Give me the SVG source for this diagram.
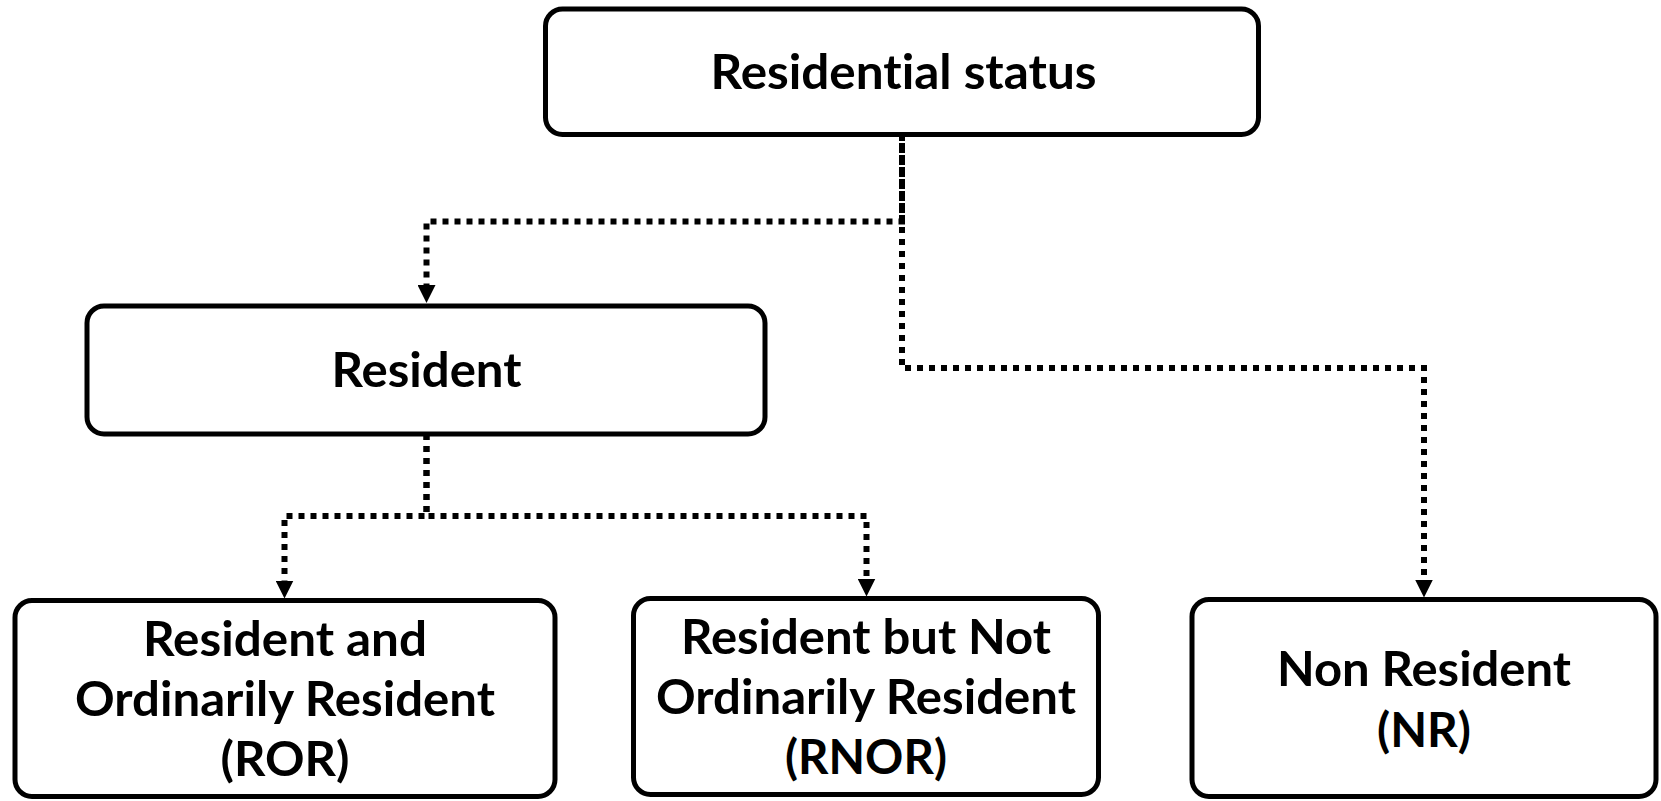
<svg xmlns="http://www.w3.org/2000/svg" width="1661" height="801" viewBox="0 0 1661 801">
  <style>
    .box { fill: #ffffff; stroke: #000000; stroke-width: 5; }
    .lbl { font-family: "Lato", "Open Sans", "Liberation Sans", sans-serif; font-weight: bold; font-size: 48px; fill: #000000; text-anchor: middle; font-variant-ligatures: none; }
    .conn { fill: none; stroke: #000000; stroke-width: 6; stroke-dasharray: 6 6; marker-end: url(#arrow); }
  </style>
  <defs>
    <marker id="arrow" markerWidth="18" markerHeight="18" refX="0" refY="9" orient="auto" markerUnits="userSpaceOnUse">
      <path d="M0,0 L18,9 L0,18 Z" fill="#000000"/>
    </marker>
  </defs>
  <rect width="1661" height="801" fill="#ffffff"/>
  <g id="connectors">
    <path class="conn" d="M902,135 V221.5 H426.5 V285"/>
    <path class="conn" style="stroke-dashoffset:4" d="M902,135 V368 H1424 V579.5"/>
    <path class="conn" d="M426.5,434 V516 H284.5 V580.5"/>
    <path class="conn" d="M426.5,434 V516 H866.5 V578.5"/>
  </g>
  <g id="node-status">
    <rect class="box" x="545.5" y="9" width="713" height="125.5" rx="17"/>
    <text class="lbl" x="903.5" y="89" textLength="386" lengthAdjust="spacingAndGlyphs">Residential status</text>
  </g>
  <g id="node-resident">
    <rect class="box" x="87" y="306" width="678" height="128" rx="17"/>
    <text class="lbl" x="426.5" y="387" textLength="190" lengthAdjust="spacingAndGlyphs">Resident</text>
  </g>
  <g id="node-ror">
    <rect class="box" x="15" y="600.5" width="540" height="196" rx="17"/>
    <text class="lbl" x="285" y="655.5" textLength="284" lengthAdjust="spacingAndGlyphs">Resident and</text>
    <text class="lbl" x="285" y="715.5" textLength="420" lengthAdjust="spacingAndGlyphs">Ordinarily Resident</text>
    <text class="lbl" x="285" y="775.5" textLength="129" lengthAdjust="spacingAndGlyphs">(ROR)</text>
  </g>
  <g id="node-rnor">
    <rect class="box" x="633.5" y="598.5" width="465" height="196" rx="17"/>
    <text class="lbl" x="866" y="653.5" textLength="370" lengthAdjust="spacingAndGlyphs">Resident but Not</text>
    <text class="lbl" x="866" y="713.5" textLength="420" lengthAdjust="spacingAndGlyphs">Ordinarily Resident</text>
    <text class="lbl" x="866" y="773.5" textLength="162" lengthAdjust="spacingAndGlyphs">(RNOR)</text>
  </g>
  <g id="node-nr">
    <rect class="box" x="1192" y="599.5" width="464" height="197" rx="17"/>
    <text class="lbl" x="1424" y="685.5" textLength="294" lengthAdjust="spacingAndGlyphs">Non Resident</text>
    <text class="lbl" x="1424" y="746.5" textLength="94" lengthAdjust="spacingAndGlyphs">(NR)</text>
  </g>
</svg>
